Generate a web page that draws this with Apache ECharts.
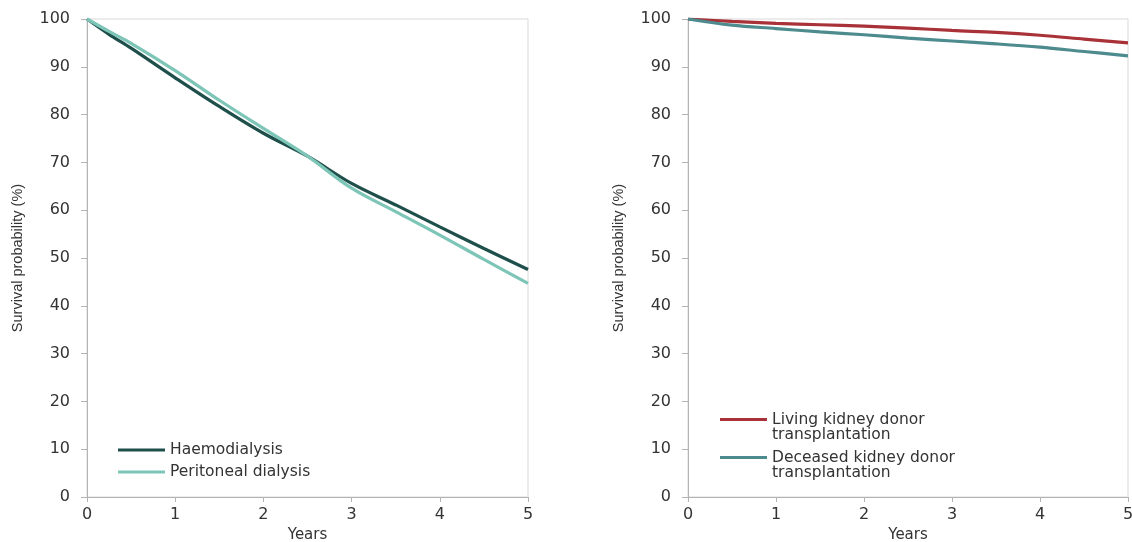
<!DOCTYPE html>
<html>
<head>
<meta charset="utf-8">
<script src="https://cdn.jsdelivr.net/npm/echarts@6/dist/echarts.min.js"></script>
<style>
html,body{margin:0;padding:0;background:#fff;}
#chart{width:1132px;height:542px;}
</style>
</head>
<body>
<div id="chart"></div>
<script>
// ---- data ----
var dialysisYears = [0, 0.25, 0.5, 1, 1.5, 2, 2.5, 3, 3.5, 4, 4.5, 5];
var haemodialysis = [100, 96.8, 93.9, 87.7, 81.7, 76.1, 71.3, 65.6, 61.1, 56.5, 52.0, 47.6];
var peritoneal = [100, 97.4, 94.9, 89.2, 83.0, 77.1, 71.3, 64.6, 59.7, 54.8, 49.7, 44.7];

var transplantYears = [0, 0.5, 1, 1.5, 2, 2.5, 3, 3.5, 4, 4.5, 5];
var livingDonor = [100, 99.5, 99.1, 98.8, 98.5, 98.1, 97.6, 97.2, 96.6, 95.8, 95.0];
var deceasedDonor = [100, 98.7, 98.0, 97.3, 96.7, 96.0, 95.4, 94.8, 94.1, 93.2, 92.3];

var seriesNames = ['Haemodialysis', 'Peritoneal dialysis',
  'Living kidney donor\ntransplantation', 'Deceased kidney donor\ntransplantation'];
var xAxisName = 'Years';
var yAxisName = 'Survival probability (%)';

function pairs(xs, ys) { return xs.map(function (x, i) { return [x, ys[i]]; }); }

var labelFont = 'DejaVu Sans';
var textColor = '#333';
var axisColor = '#b4b4b4';

function xAxisCfg(gi) {
  return {
    type: 'value', gridIndex: gi, min: 0, max: 5, interval: 1,
    name: xAxisName, nameLocation: 'middle', nameGap: 31,
    nameTextStyle: { fontFamily: labelFont, fontSize: 15, color: textColor },
    axisLine: { show: true, lineStyle: { color: axisColor, width: 1 } },
    axisTick: { show: true, length: 5, lineStyle: { color: axisColor } },
    axisLabel: { fontFamily: labelFont, fontSize: 16, color: textColor, margin: 10 },
    splitLine: { show: false }
  };
}
function yAxisCfg(gi) {
  return {
    type: 'value', gridIndex: gi, min: 0, max: 100, interval: 10,
    name: yAxisName, nameLocation: 'middle', nameGap: 62, nameRotate: 90,
    nameTextStyle: { fontFamily: 'Liberation Sans', fontSize: 14.5, color: textColor },
    axisLine: { show: true, lineStyle: { color: axisColor, width: 1 } },
    axisTick: { show: true, length: 6, lineStyle: { color: axisColor } },
    axisLabel: { fontFamily: labelFont, fontSize: 16, color: textColor, margin: 17 },
    splitLine: { show: false }
  };
}
function lineSeries(name, data, color, xi) {
  return {
    name: name, type: 'line', xAxisIndex: xi, yAxisIndex: xi,
    data: data, smooth: 0.35, showSymbol: false, symbol: 'none',
    lineStyle: { color: color, width: 3.2 }, itemStyle: { color: color },
    animation: false
  };
}
// prepend an empty line so the legend icon sits beside the first text line
function firstLineFormatter(name) { return '\n' + name; }

var chart = echarts.init(document.getElementById('chart'));
chart.setOption({
  backgroundColor: '#fff',
  animation: false,
  grid: [
    { left: 87, right: 604, top: 19, bottom: 45, show: true, borderColor: '#d9d9d9', borderWidth: 1,
      containLabel: false, outerBoundsMode: 'none' },
    { left: 688, right: 4, top: 19, bottom: 45, show: true, borderColor: '#d9d9d9', borderWidth: 1,
      containLabel: false, outerBoundsMode: 'none' }
  ],
  xAxis: [xAxisCfg(0), xAxisCfg(1)],
  yAxis: [yAxisCfg(0), yAxisCfg(1)],
  legend: [
    {
      data: [seriesNames[0], seriesNames[1]], orient: 'vertical', left: 118, top: 439,
      padding: 0, itemGap: 0, itemWidth: 47, itemHeight: 3, icon: 'rect',
      textStyle: { fontFamily: labelFont, fontSize: 15.5, color: textColor, lineHeight: 22 }
    },
    {
      data: [seriesNames[2]], orient: 'vertical', left: 720, top: 396.5,
      padding: 0, itemWidth: 47, itemHeight: 3, icon: 'rect', formatter: firstLineFormatter,
      textStyle: { fontFamily: labelFont, fontSize: 15.5, color: textColor, lineHeight: 15 }
    },
    {
      data: [seriesNames[3]], orient: 'vertical', left: 720, top: 434.5,
      padding: 0, itemWidth: 47, itemHeight: 3, icon: 'rect', formatter: firstLineFormatter,
      textStyle: { fontFamily: labelFont, fontSize: 15.5, color: textColor, lineHeight: 15 }
    }
  ],
  series: [
    lineSeries(seriesNames[0], pairs(dialysisYears, haemodialysis), '#1f4f4b', 0),
    lineSeries(seriesNames[1], pairs(dialysisYears, peritoneal), '#7cc5b7', 0),
    lineSeries(seriesNames[2], pairs(transplantYears, livingDonor), '#a83238', 1),
    lineSeries(seriesNames[3], pairs(transplantYears, deceasedDonor), '#4d8b8e', 1)
  ]
});
</script>
</body>
</html>
